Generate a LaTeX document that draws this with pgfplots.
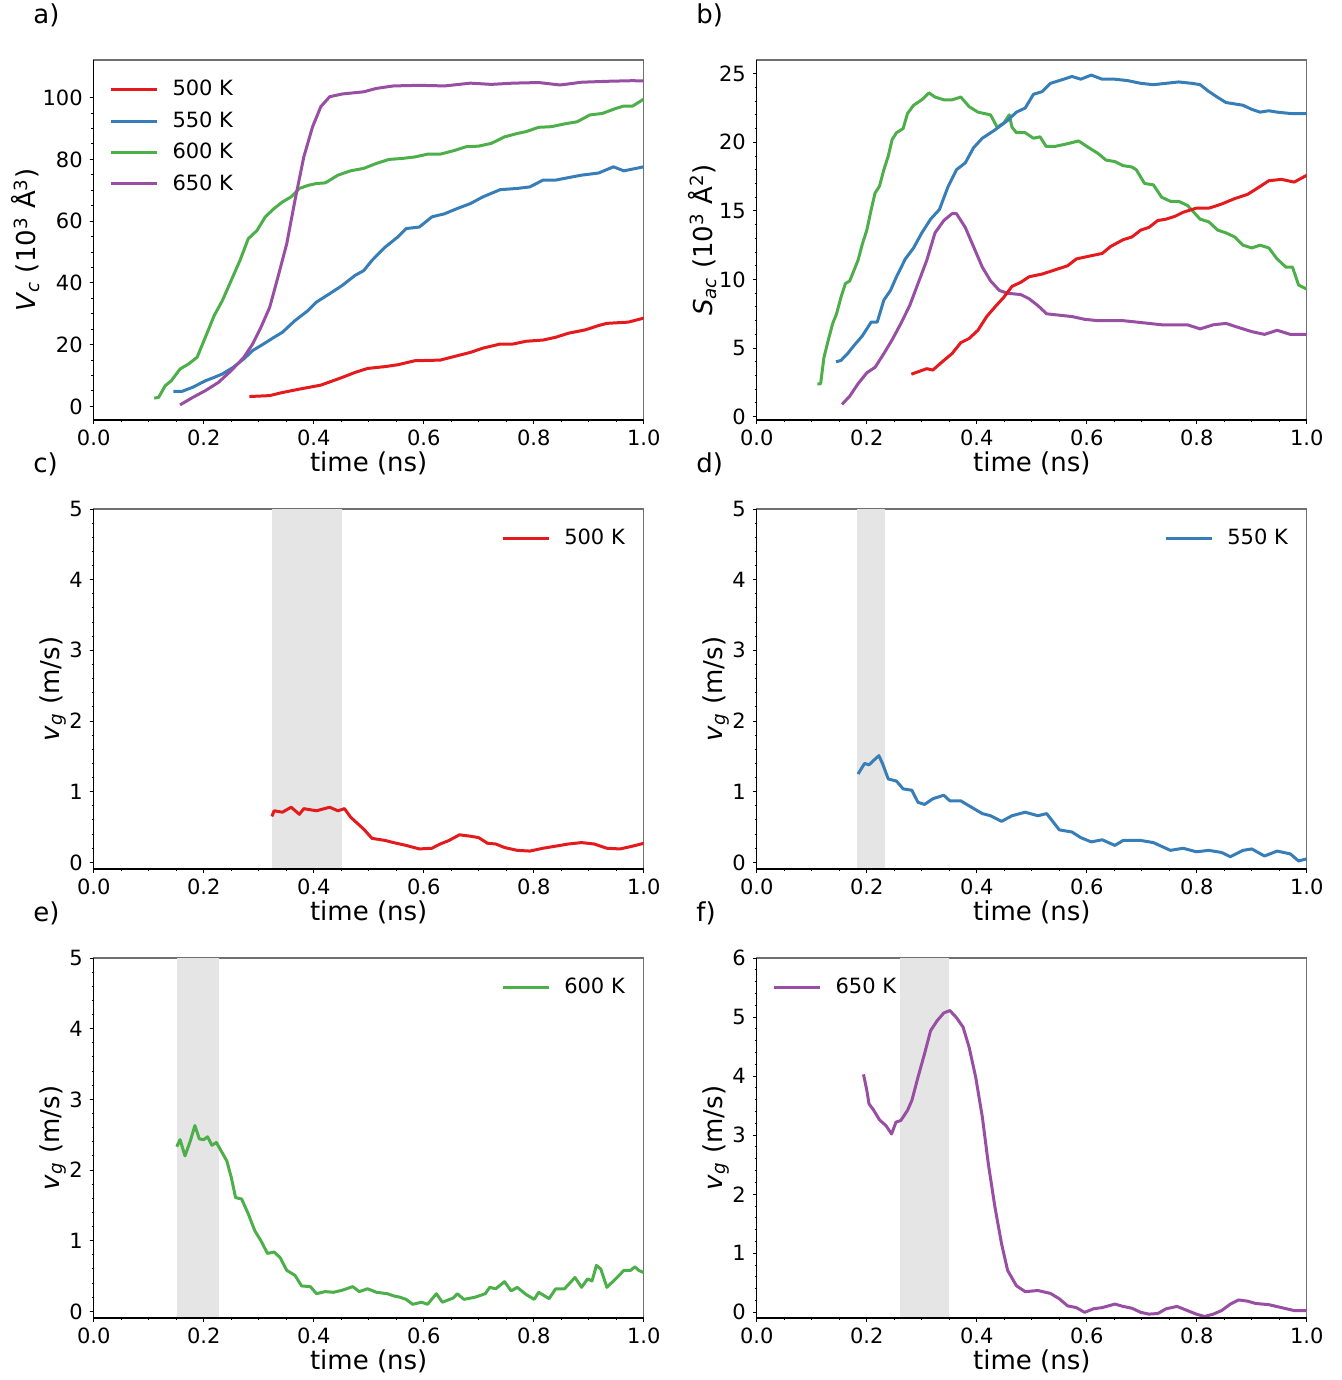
\documentclass[border=0pt]{standalone}
\usepackage{fontspec}
\setmainfont{DejaVu Sans}
\usepackage{pgfplots}
\pgfplotsset{compat=1.18}

\definecolor{cred}{HTML}{E41A1C}
\definecolor{cblue}{HTML}{377EB8}
\definecolor{cgreen}{HTML}{4DAF4A}
\definecolor{cpurple}{HTML}{984EA3}
\definecolor{shade}{HTML}{E5E5E5}
\definecolor{spine}{HTML}{707070}

\pgfplotsset{
  panel/.style={
    scale only axis, width=275pt, height=180pt,
    anchor=north west,
    xmin=0, xmax=1, xtick={0,0.2,0.4,0.6,0.8,1},
    minor x tick num=3, minor y tick num=4,
    tick pos=left, tick align=outside,
    major tick length=2pt, minor tick length=1.1pt,
    tick style={black, line width=0.5pt},
    axis line style={draw=spine, line width=0.6pt},
    after end axis/.code={\draw[black, line width=0.6pt] (rel axis cs:0,1) -- (rel axis cs:0,0) -- (rel axis cs:1,0);},
    /pgf/number format/assume math mode=true,
    ticklabel style={font=\fontsize{10.5}{12}\selectfont},
    xticklabel style={yshift=0.8pt, /pgf/number format/.cd, fixed, fixed zerofill, precision=1},
    label style={font=\fontsize{13}{15}\selectfont},
    xlabel={time (ns)},
    xlabel style={yshift=3.8pt},
    ylabel style={yshift=-5.5pt},
    legend style={draw=none, fill=none, inner sep=0pt, row sep=4.4pt,
      font=\fontsize{10.5}{12}\selectfont, nodes={inner sep=1pt},
      /tikz/every odd column/.append style={column sep=6pt}},
    legend cell align=left,
    legend image code/.code={\draw[#1] (0pt,0pt) -- (23pt,0pt);},
    every axis plot/.append style={line width=1.5pt, line join=round},
  },
  legTL/.style={legend style={at={(0.028,0.95)}, anchor=north west}},
  legTR/.style={legend style={at={(0.97,0.95)}, anchor=north east}},
}

\begin{document}
\begin{tikzpicture}
\path[use as bounding box] (0pt,0pt) rectangle (670.5pt,-690pt);

\tikzset{plab/.style={anchor=base west, inner sep=0pt, font=\fontsize{13}{15}\selectfont}}
\node[plab] at (16.5pt,-11.8pt) {a)};
\node[plab] at (348pt,-11.8pt) {b)};
\node[plab] at (16.5pt,-236.3pt) {c)};
\node[plab] at (348pt,-236.3pt) {d)};
\node[plab] at (16.5pt,-460.8pt) {e)};
\node[plab] at (348pt,-460.8pt) {f)};

% a) crystal volume
\begin{axis}[panel, legTL, at={(46.85pt,-30pt)},
  ymin=-4.4, ymax=112.2, ytick={0,20,40,60,80,100}, minor y tick num=3,
  ylabel={\textit{V}\textsubscript{\textit{c}} (10\textsuperscript{3} Å\textsuperscript{3})}]
\addplot[cred] coordinates {
(0.283,3.2)(0.32,3.5)(0.343,4.5)(0.374,5.6)(0.413,6.9)(0.452,9.4)(0.475,11.0)(0.498,12.3)
(0.53,12.9)(0.553,13.5)(0.584,14.8)(0.63,15.0)(0.654,16.1)(0.685,17.5)(0.708,18.9)(0.739,20.2)
(0.762,20.2)(0.786,21.1)(0.817,21.5)(0.84,22.4)(0.863,23.7)(0.894,24.8)(0.918,26.2)(0.933,26.9)
(0.972,27.3)(1.0,28.6)};
\addlegendentry{500 K}
\addplot[cblue] coordinates {
(0.145,4.9)(0.161,4.9)(0.18,6.2)(0.203,8.3)(0.219,9.4)(0.234,10.5)(0.254,12.7)(0.273,15.4)
(0.289,18.1)(0.304,19.7)(0.328,22.4)(0.343,24.0)(0.366,27.8)(0.39,31.1)(0.405,33.8)(0.429,36.5)
(0.452,39.2)(0.475,42.4)(0.491,44.0)(0.506,47.3)(0.53,51.6)(0.553,54.9)(0.568,57.6)(0.592,58.1)
(0.615,61.4)(0.638,62.4)(0.661,64.1)(0.685,65.7)(0.708,67.9)(0.739,70.2)(0.77,70.6)(0.793,71.1)
(0.817,73.3)(0.84,73.3)(0.863,74.1)(0.887,74.9)(0.918,75.6)(0.945,77.6)(0.964,76.3)(1.0,77.6)};
\addlegendentry{550 K}
\addplot[cgreen] coordinates {
(0.11,2.7)(0.118,2.9)(0.13,6.7)(0.141,8.3)(0.157,12.1)(0.172,13.7)(0.188,15.9)(0.203,22.4)
(0.219,29.4)(0.234,34.3)(0.25,40.8)(0.266,47.3)(0.281,54.3)(0.297,57.0)(0.312,61.4)(0.328,64.1)
(0.343,66.2)(0.359,67.9)(0.374,70.6)(0.39,71.6)(0.405,72.2)(0.421,72.4)(0.444,74.9)(0.467,76.3)
(0.491,77.1)(0.514,78.7)(0.537,80.0)(0.56,80.3)(0.584,80.8)(0.607,81.7)(0.63,81.7)(0.654,82.8)
(0.677,84.1)(0.7,84.3)(0.723,85.2)(0.747,87.3)(0.77,88.4)(0.786,89.0)(0.809,90.4)(0.832,90.6)
(0.856,91.5)(0.879,92.2)(0.902,94.4)(0.925,94.9)(0.949,96.5)(0.964,97.3)(0.98,97.3)(1.0,99.5)};
\addlegendentry{600 K}
\addplot[cpurple] coordinates {
(0.157,0.5)(0.18,2.9)(0.203,5.1)(0.227,7.8)(0.25,11.6)(0.273,15.9)(0.289,20.2)(0.304,25.6)
(0.32,32.1)(0.335,41.9)(0.351,52.7)(0.366,66.8)(0.382,80.8)(0.398,90.6)(0.413,97.1)(0.429,100.3)
(0.452,101.2)(0.491,101.9)(0.514,103.0)(0.545,103.8)(0.592,104.0)(0.638,103.8)(0.685,104.7)
(0.723,104.3)(0.762,104.7)(0.809,104.9)(0.848,104.1)(0.887,105.0)(0.933,105.3)(0.98,105.5)(1.0,105.4)};
\addlegendentry{650 K}
\end{axis}

% b) surface area
\begin{axis}[panel, at={(378.4pt,-30pt)},
  ymin=-0.24, ymax=26.0, ytick={0,5,10,15,20,25},
  ylabel={\textit{S}\textsubscript{\textit{ac}} (10\textsuperscript{3} Å\textsuperscript{2})}]
\addplot[cgreen] coordinates {
(0.11,2.4)(0.116,2.4)(0.122,4.3)(0.13,5.6)(0.138,6.8)(0.145,7.5)(0.153,8.7)(0.161,9.7)(0.169,9.9)
(0.177,10.7)(0.184,11.4)(0.192,12.6)(0.2,13.6)(0.208,15.1)(0.215,16.3)(0.223,16.8)(0.231,18.0)
(0.239,19.0)(0.246,20.2)(0.254,20.7)(0.266,21.0)(0.274,22.1)(0.285,22.7)(0.3,23.1)(0.313,23.6)
(0.324,23.3)(0.34,23.1)(0.355,23.1)(0.371,23.3)(0.386,22.6)(0.402,22.2)(0.425,22.0)(0.437,21.1)
(0.449,21.4)(0.459,22.0)(0.464,21.1)(0.472,20.7)(0.488,20.7)(0.503,20.3)(0.515,20.4)(0.526,19.7)
(0.542,19.7)(0.565,19.9)(0.585,20.1)(0.604,19.6)(0.62,19.2)(0.635,18.7)(0.651,18.6)(0.666,18.3)
(0.682,18.2)(0.69,18.0)(0.705,17.0)(0.721,16.9)(0.736,16.0)(0.752,15.7)(0.767,15.7)(0.783,15.4)
(0.806,14.4)(0.822,14.2)(0.838,13.6)(0.853,13.4)(0.869,13.1)(0.884,12.5)(0.9,12.3)(0.915,12.5)
(0.931,12.3)(0.946,11.5)(0.962,10.9)(0.974,10.9)(0.985,9.6)(1.0,9.3)};
\addplot[cblue] coordinates {
(0.144,4.0)(0.153,4.1)(0.165,4.6)(0.177,5.2)(0.192,5.9)(0.208,6.9)(0.219,6.9)(0.231,8.5)
(0.243,9.2)(0.254,10.2)(0.27,11.5)(0.285,12.3)(0.3,13.4)(0.316,14.4)(0.332,15.1)(0.348,16.8)
(0.363,18.0)(0.379,18.5)(0.394,19.6)(0.41,20.3)(0.433,20.9)(0.456,21.6)(0.472,22.2)(0.488,22.5)
(0.503,23.5)(0.519,23.7)(0.534,24.3)(0.558,24.6)(0.573,24.8)(0.589,24.6)(0.608,24.9)(0.628,24.6)
(0.651,24.6)(0.674,24.5)(0.698,24.3)(0.721,24.2)(0.744,24.3)(0.767,24.4)(0.791,24.3)(0.806,24.2)
(0.822,23.7)(0.837,23.3)(0.853,22.9)(0.869,22.8)(0.884,22.7)(0.9,22.4)(0.915,22.2)(0.931,22.3)
(0.946,22.2)(0.97,22.1)(1.0,22.1)};
\addplot[cpurple] coordinates {
(0.155,0.9)(0.169,1.5)(0.184,2.4)(0.2,3.2)(0.215,3.6)(0.231,4.6)(0.246,5.6)(0.262,6.8)(0.278,8.1)
(0.293,9.7)(0.309,11.4)(0.324,13.4)(0.34,14.3)(0.355,14.8)(0.363,14.8)(0.379,13.8)(0.394,12.4)
(0.41,10.9)(0.425,9.9)(0.441,9.2)(0.456,9.0)(0.48,8.9)(0.495,8.6)(0.511,8.1)(0.527,7.5)(0.55,7.4)
(0.573,7.3)(0.596,7.1)(0.62,7.0)(0.643,7.0)(0.666,7.0)(0.69,6.9)(0.713,6.8)(0.736,6.7)(0.76,6.7)
(0.783,6.7)(0.806,6.4)(0.83,6.7)(0.853,6.8)(0.876,6.5)(0.9,6.2)(0.923,6.0)(0.946,6.3)(0.97,6.0)(1.0,6.0)};
\addplot[cred] coordinates {
(0.281,3.1)(0.309,3.5)(0.32,3.4)(0.34,4.1)(0.355,4.6)(0.371,5.4)(0.386,5.7)(0.402,6.3)(0.418,7.3)
(0.433,8.0)(0.449,8.7)(0.464,9.5)(0.48,9.8)(0.495,10.2)(0.519,10.4)(0.542,10.7)(0.565,11.0)
(0.581,11.5)(0.604,11.7)(0.628,11.9)(0.643,12.4)(0.666,12.9)(0.682,13.1)(0.698,13.6)(0.713,13.8)
(0.729,14.3)(0.744,14.4)(0.76,14.6)(0.775,14.9)(0.799,15.2)(0.822,15.2)(0.845,15.5)(0.869,15.9)
(0.892,16.2)(0.908,16.6)(0.931,17.2)(0.954,17.3)(0.977,17.1)(1.0,17.6)};
\end{axis}

% c) growth velocity 500 K
\begin{axis}[panel, legTR, at={(46.85pt,-254.5pt)},
  ymin=-0.094, ymax=5, ytick={0,1,2,3,4,5},
  ylabel={\textit{v}\textsubscript{\textit{g}} (m/s)}]
\addplot[draw=none, fill=shade, forget plot] coordinates {(0.325,-1)(0.452,-1)(0.452,7)(0.325,7)};
\addplot[cred] coordinates {
(0.324,0.65)(0.328,0.73)(0.343,0.71)(0.359,0.78)(0.374,0.68)(0.382,0.76)(0.405,0.73)(0.429,0.78)
(0.444,0.73)(0.456,0.76)(0.467,0.64)(0.491,0.47)(0.506,0.34)(0.53,0.31)(0.545,0.28)(0.568,0.24)
(0.592,0.19)(0.615,0.20)(0.63,0.26)(0.646,0.31)(0.665,0.39)(0.685,0.37)(0.7,0.35)(0.716,0.27)
(0.731,0.26)(0.747,0.21)(0.77,0.17)(0.793,0.16)(0.817,0.20)(0.84,0.23)(0.863,0.26)(0.887,0.28)
(0.91,0.26)(0.933,0.20)(0.957,0.19)(0.98,0.23)(1.0,0.27)};
\addlegendentry{500 K}
\end{axis}

% d) growth velocity 550 K
\begin{axis}[panel, legTR, at={(378.4pt,-254.5pt)},
  ymin=-0.094, ymax=5, ytick={0,1,2,3,4,5},
  ylabel={\textit{v}\textsubscript{\textit{g}} (m/s)}]
\addplot[draw=none, fill=shade, forget plot] coordinates {(0.183,-1)(0.233,-1)(0.233,7)(0.183,7)};
\addplot[cblue] coordinates {
(0.184,1.25)(0.196,1.40)(0.204,1.38)(0.212,1.44)(0.222,1.51)(0.229,1.39)(0.239,1.18)(0.254,1.15)
(0.266,1.04)(0.282,1.02)(0.293,0.85)(0.305,0.82)(0.32,0.90)(0.34,0.95)(0.351,0.87)(0.371,0.87)
(0.386,0.80)(0.41,0.69)(0.425,0.66)(0.445,0.58)(0.464,0.66)(0.488,0.71)(0.511,0.66)(0.527,0.69)
(0.55,0.46)(0.573,0.43)(0.589,0.35)(0.608,0.29)(0.628,0.32)(0.651,0.24)(0.666,0.31)(0.698,0.31)
(0.721,0.28)(0.752,0.17)(0.775,0.20)(0.799,0.15)(0.822,0.17)(0.845,0.14)(0.861,0.08)(0.884,0.17)
(0.9,0.19)(0.923,0.09)(0.946,0.16)(0.97,0.12)(0.985,0.02)(1.0,0.05)};
\addlegendentry{550 K}
\end{axis}

% e) growth velocity 600 K
\begin{axis}[panel, legTR, at={(46.85pt,-479pt)},
  ymin=-0.094, ymax=5, ytick={0,1,2,3,4,5},
  ylabel={\textit{v}\textsubscript{\textit{g}} (m/s)}]
\addplot[draw=none, fill=shade, forget plot] coordinates {(0.152,-1)(0.227,-1)(0.227,7)(0.152,7)};
\addplot[cgreen] coordinates {
(0.151,2.33)(0.157,2.43)(0.166,2.20)(0.176,2.42)(0.184,2.63)(0.192,2.44)(0.2,2.43)(0.207,2.47)
(0.215,2.35)(0.223,2.39)(0.231,2.28)(0.242,2.13)(0.25,1.90)(0.258,1.61)(0.269,1.59)(0.281,1.38)
(0.293,1.14)(0.304,1.00)(0.316,0.82)(0.328,0.84)(0.339,0.76)(0.351,0.58)(0.366,0.51)(0.378,0.36)
(0.394,0.35)(0.405,0.25)(0.421,0.28)(0.436,0.27)(0.452,0.30)(0.471,0.35)(0.483,0.28)(0.498,0.32)
(0.514,0.27)(0.534,0.25)(0.545,0.22)(0.557,0.20)(0.568,0.17)(0.58,0.10)(0.596,0.13)(0.607,0.10)
(0.623,0.25)(0.634,0.13)(0.654,0.19)(0.661,0.25)(0.673,0.17)(0.693,0.20)(0.712,0.25)(0.72,0.34)
(0.731,0.32)(0.747,0.42)(0.759,0.29)(0.77,0.34)(0.786,0.24)(0.801,0.17)(0.809,0.27)(0.828,0.18)
(0.84,0.32)(0.856,0.32)(0.875,0.48)(0.887,0.34)(0.898,0.46)(0.906,0.43)(0.914,0.65)(0.922,0.60)
(0.933,0.34)(0.949,0.46)(0.964,0.58)(0.976,0.58)(0.984,0.63)(0.991,0.58)(1.0,0.55)};
\addlegendentry{600 K}
\end{axis}

% f) growth velocity 650 K
\begin{axis}[panel, legTL, at={(378.4pt,-479pt)},
  ymin=-0.096, ymax=6, ytick={0,1,2,3,4,5,6},
  ylabel={\textit{v}\textsubscript{\textit{g}} (m/s)}]
\addplot[draw=none, fill=shade, forget plot] coordinates {(0.26,-1)(0.35,-1)(0.35,7)(0.26,7)};
\addplot[cpurple] coordinates {
(0.194,4.03)(0.2,3.76)(0.204,3.53)(0.212,3.43)(0.223,3.26)(0.235,3.16)(0.245,3.02)(0.253,3.22)
(0.262,3.25)(0.274,3.42)(0.282,3.59)(0.293,3.98)(0.305,4.38)(0.316,4.77)(0.328,4.94)(0.34,5.07)
(0.351,5.11)(0.363,4.99)(0.375,4.83)(0.386,4.49)(0.398,3.98)(0.41,3.31)(0.421,2.51)(0.433,1.78)
(0.445,1.16)(0.456,0.71)(0.472,0.45)(0.488,0.35)(0.511,0.37)(0.534,0.32)(0.55,0.23)(0.565,0.11)
(0.581,0.08)(0.596,0.0)(0.612,0.06)(0.628,0.08)(0.651,0.14)(0.666,0.10)(0.682,0.07)(0.698,0.0)
(0.713,-0.03)(0.729,-0.02)(0.744,0.06)(0.764,0.10)(0.783,0.03)(0.799,-0.03)(0.814,-0.07)(0.83,-0.03)
(0.845,0.03)(0.861,0.14)(0.876,0.21)(0.892,0.19)(0.907,0.15)(0.931,0.13)(0.954,0.08)(0.977,0.03)(1.0,0.03)};
\addlegendentry{650 K}
\end{axis}
\end{tikzpicture}
\end{document}
